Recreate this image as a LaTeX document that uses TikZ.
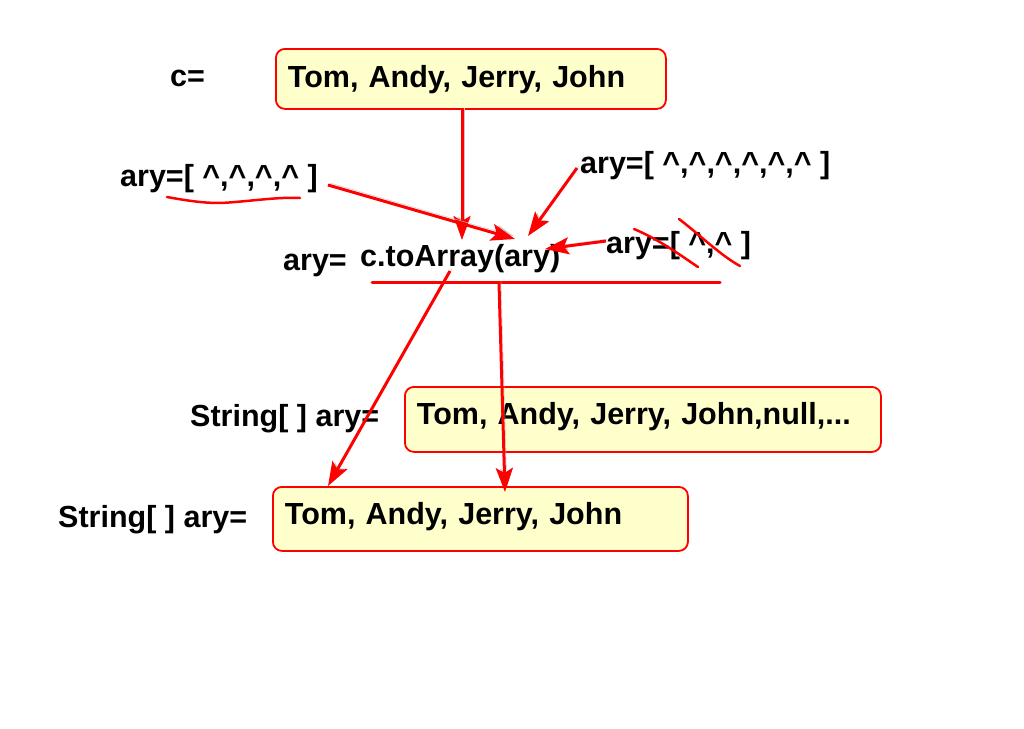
\documentclass[tikz,border=0pt]{standalone}
\usepackage{fontspec}
\setmainfont{Liberation Sans}
\usetikzlibrary{arrows.meta,calc}
\definecolor{boxfill}{HTML}{FFFFCC}
\definecolor{ared}{HTML}{FF0000}
\newcommand{\crt}{\textasciicircum}
\begin{document}
\begin{tikzpicture}[x=1pt,y=-1pt,
  bigfont/.style={font=\fontsize{30.5}{36}\selectfont\bfseries},
  lbl/.style={bigfont, inner sep=0pt, anchor=base west},
  valbox/.style={bigfont, draw=ared, line width=1.8pt, fill=boxfill, rounded corners=9pt,
    inner xsep=12pt, inner ysep=0pt, anchor=north west, align=left, text height=22pt},
  arr/.style={draw=ared, line width=3pt, -{Stealth[length=24pt,width=17pt,inset=5pt]},
    preaction={draw=black!22, transform canvas={shift={(2pt,2pt)}}}},
  redmark/.style={draw=ared, line width=2.5pt, line cap=round}]
\useasboundingbox (0,0) rectangle (1024,728);
\fill[white] (0,0) rectangle (1024,728);

% boxes
\node[valbox, minimum width=390pt, minimum height=60pt, text width=366pt, text depth=4pt] (box1) at (275,48) {Tom, Andy, Jerry, John};
\node[valbox, minimum width=476pt, minimum height=65pt, text width=452pt, text depth=11pt] (box2) at (404,386) {Tom, Andy, Jerry, John,null,...};
\node[valbox, minimum width=415pt, minimum height=64pt, text width=391pt, text depth=10pt] (box3) at (272,486) {Tom, Andy, Jerry, John};

% labels
\node[lbl] (c) at (170,86) {c=};
\node[lbl] (aryA) at (120,186) {ary=[ \crt,\crt,\crt,\crt{} ]};
\node[lbl] (aryB) at (580,173) {ary=[ \crt,\crt,\crt,\crt,\crt,\crt{} ]};
\node[lbl] (aryR) at (283,270) {ary=};
\node[lbl] (call) at (360,266) {c.toArray(ary)};
\node[lbl] (aryC) at (606,253) {ary=[ \crt,\crt{} ]};
\node[lbl] (s1) at (190,426) {String[ ] ary=};
\node[lbl] (s2) at (58,527) {String[ ] ary=};

% named connector ends
\coordinate (t1) at (462,240);
\coordinate (sA) at (328,185);
\coordinate (tA) at (515,239);
\coordinate (sB) at (577,168);
\coordinate (tB) at (528,236);
\coordinate (sC) at (606,241);
\coordinate (tC) at (545,249);
\coordinate (s5) at (450,271);
\coordinate (t5) at (328,486);
\coordinate (s6) at (499,283);
\coordinate (t6) at (505,492);
\coordinate (hl) at (372,282);
\coordinate (hr) at (720,282);

% marks
\draw[redmark] (167,197) .. controls (200,203) and (215,204) .. (235,202) .. controls (260,200) and (280,197) .. (300,198);
\draw[redmark] (634,229) .. controls (660,240) and (680,255) .. (698,267);
\draw[redmark] (679,219) .. controls (700,235) and (720,255) .. (740,266);
\draw[redmark, line width=3pt] (hl) -- (hr);

% arrows
\draw[arr] (t1 |- box1.south) -- (t1);
\draw[arr] (sA) -- (tA);
\draw[arr] (sB) -- (tB);
\draw[arr] (sC) -- (tC);
\draw[arr] (s5) -- (t5);
\draw[arr] (s6) -- (t6);
\end{tikzpicture}
\end{document}
